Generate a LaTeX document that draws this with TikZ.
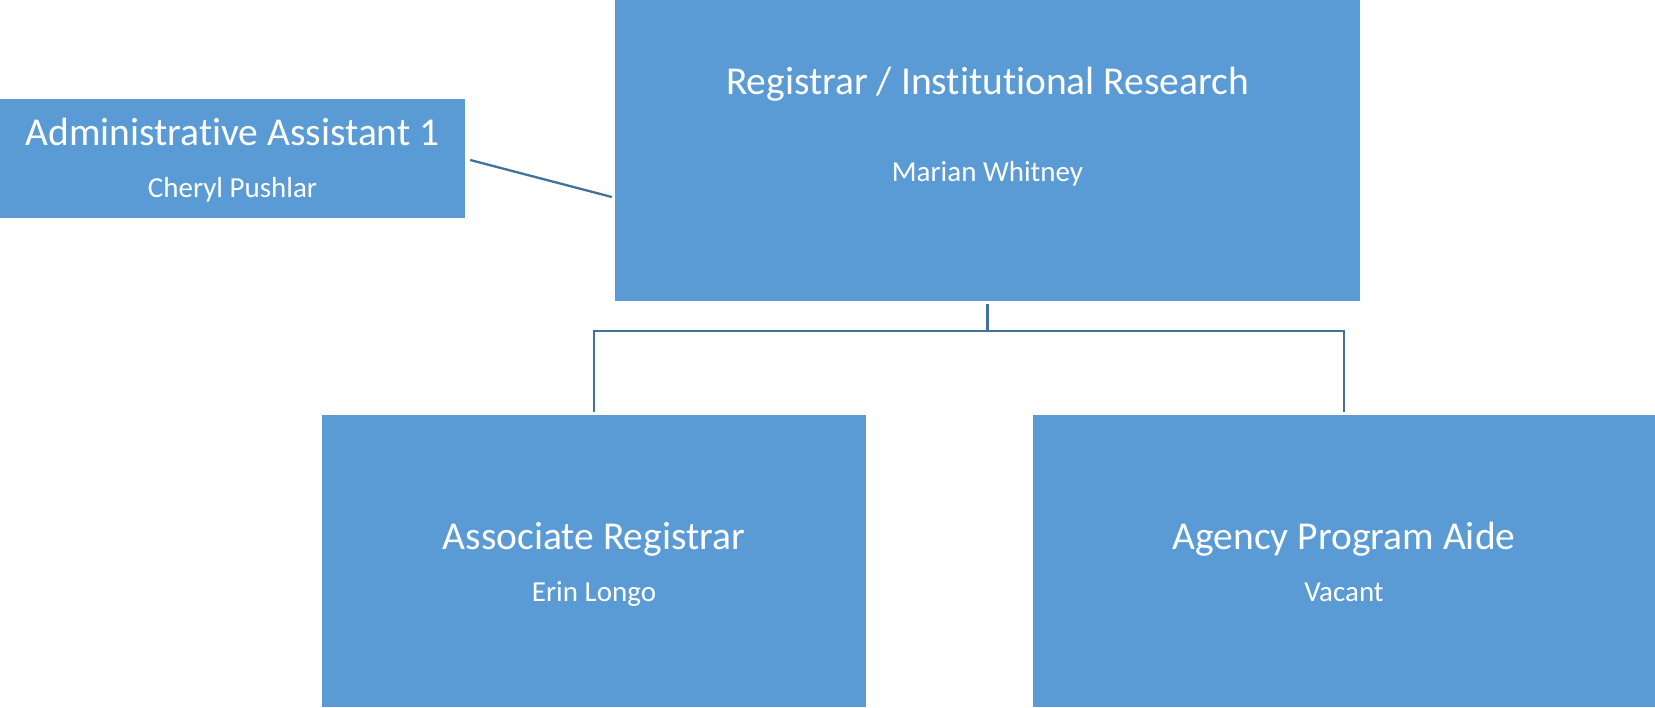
\documentclass[tikz,border=0pt]{standalone}
\usepackage{fontspec}
\setmainfont[Ligatures=NoCommon]{Carlito}
\usepackage{tikz}

\definecolor{boxblue}{HTML}{5B9BD5}
\definecolor{lineblue}{HTML}{41719C}

\begin{document}
\begin{tikzpicture}[x=1pt, y=-1pt,
    box/.style={fill=boxblue, draw=none, inner sep=0pt},
    post/.style={text=white, anchor=base, inner sep=0pt, font=\fontsize{39.5}{47}\selectfont},
    who/.style={text=white, anchor=base, inner sep=0pt, font=\fontsize{29}{35}\selectfont},
    link/.style={draw=lineblue, line width=2.3pt}]
    \useasboundingbox (0,0) rectangle (1655,707);

    \node[box, minimum width=465pt, minimum height=119pt] (admin) at (232.5,158.5) {};
    \node[box, minimum width=745pt, minimum height=301pt] (reg) at (987.5,150.5) {};
    \node[box, minimum width=544pt, minimum height=292pt] (assoc) at (594,561) {};
    \node[box, minimum width=622pt, minimum height=292pt] (aide) at (1344,561) {};

    \node[post] (admintitle) at (232.5,145) {Administrative Assistant 1};
    \node[who] (adminname) at (232.5,197) {Cheryl Pushlar};
    \node[post] (regtitle) at (987.5,94) {Registrar / Institutional Research};
    \node[who] (regname) at (987.5,181) {Marian Whitney};
    \node[post] (assoctitle) at (594,549) {Associate Registrar};
    \node[who] (assocname) at (594,601) {Erin Longo};
    \node[post] (aidetitle) at (1344,549) {Agency Program Aide};
    \node[who] (aidename) at (1344,601) {Vacant};

    \draw[link] ([xshift=5pt,yshift=-1.5pt]admin.east) -- ([xshift=-3pt,yshift=-46.5pt]reg.west);
    \draw[link] ([yshift=-3pt]reg.south) -- ++(0,27) -| ([yshift=3pt]assoc.north);
    \draw[link] ([yshift=-3pt]reg.south) -- ++(0,27) -| ([yshift=3pt]aide.north);
\end{tikzpicture}
\end{document}
